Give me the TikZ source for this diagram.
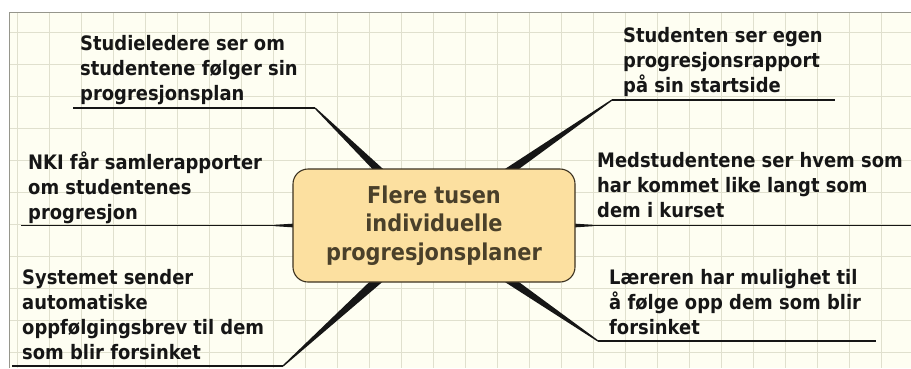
\documentclass[tikz,border=0pt]{standalone}
\usepackage{fontspec}
\setmainfont{DejaVu Sans Condensed}
\usetikzlibrary{calc,backgrounds}

\definecolor{paper}{RGB}{254,254,242}
\definecolor{gridline}{RGB}{224,224,206}
\definecolor{frameline}{RGB}{150,150,140}
\definecolor{hubfill}{RGB}{252,224,160}
\definecolor{hubline}{RGB}{60,50,32}
\definecolor{hubtext}{RGB}{74,64,42}
\definecolor{ink}{RGB}{22,22,22}

% tapered branch: from, to, half width at start (base sunk into the hub)
\newcommand\taper[3]{%
  \coordinate (tbase) at ($(#1)!-9bp!(#2)$);
  \fill[wedge] ($(tbase)!#3!90:(#2)$) -- ($(#2)!0.65bp!-90:(tbase)$)
    -- ($(#2)!0.65bp!90:(tbase)$) -- ($(tbase)!#3!-90:(#2)$) -- cycle;}

\begin{document}
\begin{tikzpicture}[
    x=1bp, y=-1bp,
    hub/.style={rectangle, rounded corners=15bp, draw=hubline, line width=1.1bp,
      fill=hubfill, minimum width=282bp, minimum height=113bp, inner sep=0pt,
      align=center, text=hubtext, font=\fontsize{23.3}{28.5}\selectfont\bfseries},
    leaf/.style={anchor=north west, align=left, inner sep=0pt, text=ink,
      font=\fontsize{20}{25}\selectfont\bfseries},
    stem/.style={draw=ink, line width=1.3bp},
    wedge/.style={fill=ink}
]
    \useasboundingbox (0,0) rectangle (911,368);

    \node[hub] (hub) at (434,225.5) {Flere tusen\\individuelle\\progresjonsplaner};

    \node[leaf] (leader) at (80,35) {Studieledere ser om\\studentene følger sin\\progresjonsplan};
    \node[leaf] (own) at (623,27) {Studenten ser egen\\progresjonsrapport\\på sin startside};
    \node[leaf] (nki) at (28,152) {NKI får samlerapporter\\om studentenes\\progresjon};
    \node[leaf] (peers) at (597,152) {Medstudentene ser hvem som\\har kommet like langt som\\dem i kurset};
    \node[leaf] (system) at (22,269) {Systemet sender\\automatiske\\oppfølgingsbrev til dem\\som blir forsinket};
    \node[leaf] (teacher) at (609,269) {Læreren har mulighet til\\å følge opp dem som blir\\forsinket};

    % branch points
    \coordinate (leaderS) at ([xshift=-57bp]hub.north);
    \coordinate (leaderK) at (315,108);
    \coordinate (leaderE) at (73,108);
    \coordinate (ownS) at ([xshift=79bp]hub.north);
    \coordinate (ownK) at (612,100);
    \coordinate (ownE) at (835,100);
    \coordinate (nkiK) at ([xshift=-18bp]hub.west);
    \coordinate (nkiE) at (21,225.5);
    \coordinate (peersK) at ([xshift=18bp]hub.east);
    \coordinate (peersE) at (911,225.5);
    \coordinate (systemS) at ([xshift=-59bp]hub.south);
    \coordinate (systemK) at (283,366);
    \coordinate (systemE) at (12,366);
    \coordinate (teacherS) at ([xshift=79bp]hub.south);
    \coordinate (teacherK) at (598,341);
    \coordinate (teacherE) at (876,341);

    \begin{scope}[on background layer]
        \fill[white] (0,0) rectangle (911,368);
        \fill[paper] (9,12) rectangle (911,368);
        \foreach \gx in {17,49,...,881}
            \draw[gridline] (\gx,12) -- (\gx,368);
        \foreach \gy in {32,64,...,352}
            \draw[gridline] (9,\gy) -- (911,\gy);
        \draw[frameline] (9,368) -- (9,12) -- (911,12);

        \taper{leaderS}{leaderK}{4bp}
        \taper{ownS}{ownK}{4.2bp}
        \taper{hub.west}{nkiK}{2.4bp}
        \taper{hub.east}{peersK}{2.4bp}
        \taper{systemS}{systemK}{4.6bp}
        \taper{teacherS}{teacherK}{4.2bp}
    \end{scope}

    \draw[stem] (leaderK) -- (leaderE);
    \draw[stem] (ownK) -- (ownE);
    \draw[stem] (hub.west) -- (nkiE);
    \draw[stem] (hub.east) -- (peersE);
    \draw[stem] (systemK) -- (systemE);
    \draw[stem] (teacherK) -- (teacherE);
\end{tikzpicture}
\end{document}
